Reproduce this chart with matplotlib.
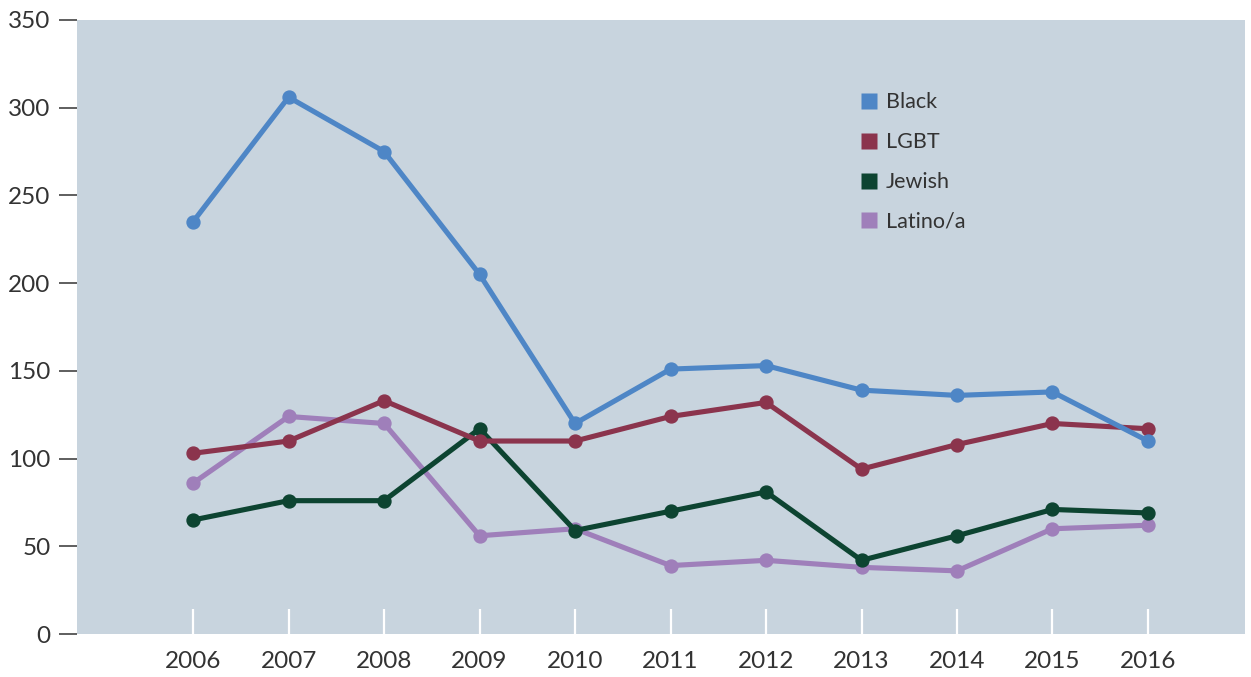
import matplotlib.pyplot as plt
from matplotlib.lines import Line2D

years = [2006, 2007, 2008, 2009, 2010, 2011, 2012, 2013, 2014, 2015, 2016]
black = [235, 306, 275, 205, 120, 151, 153, 139, 136, 138, 110]
lgbt = [103, 110, 133, 110, 110, 124, 132, 94, 108, 120, 117]
jewish = [65, 76, 76, 117, 59, 70, 81, 42, 56, 71, 69]
latino = [86, 124, 120, 56, 60, 39, 42, 38, 36, 60, 62]

series_names = ["Black", "LGBT", "Jewish", "Latino/a"]
series_colors = {
    "Black": "#4e86c6",
    "LGBT": "#8b344d",
    "Jewish": "#0d4431",
    "Latino/a": "#9f7fba",
}

plt.rcParams.update({
    "font.family": ["Lato", "DejaVu Sans"],
    "font.size": 16,
})

fig = plt.figure(figsize=(12.51, 6.77), dpi=100)
ax = fig.add_axes([0.0616, 0.0635, 0.9336, 0.907])
ax.set_facecolor("#c8d4de")

# draw latino first so it sits underneath the others
for name, values in [("Latino/a", latino), ("Jewish", jewish), ("LGBT", lgbt), ("Black", black)]:
    ax.plot(years, values, color=series_colors[name], linewidth=3.7,
            marker="o", markersize=9.3, solid_joinstyle="round")

ax.set_xlim(2004.785, 2017.016)
ax.set_ylim(0, 350)
ax.set_yticks(range(0, 351, 50))
ax.set_xticks(years)

for side in ["top", "right", "bottom", "left"]:
    ax.spines[side].set_visible(False)

ax.tick_params(axis="y", direction="out", length=13, width=1.1, color="#333333",
               pad=6, labelsize=17.5, labelcolor="#333333")
ax.tick_params(axis="x", direction="in", length=18, width=1.6, color="white",
               pad=12, labelsize=17.5, labelcolor="#333333")

handles = [
    Line2D([], [], linestyle="none", marker="s", markersize=11.5,
           markerfacecolor=series_colors[name], markeredgecolor="none", label=name)
    for name in series_names
]
ax.legend(handles=handles, loc="upper left", bbox_to_anchor=(0.664, 0.896),
          frameon=False, handlelength=0.75, handletextpad=0.38, labelspacing=0.92,
          fontsize=15.5, labelcolor="#333333", borderaxespad=0)

fig.savefig("out.png", dpi=100)
